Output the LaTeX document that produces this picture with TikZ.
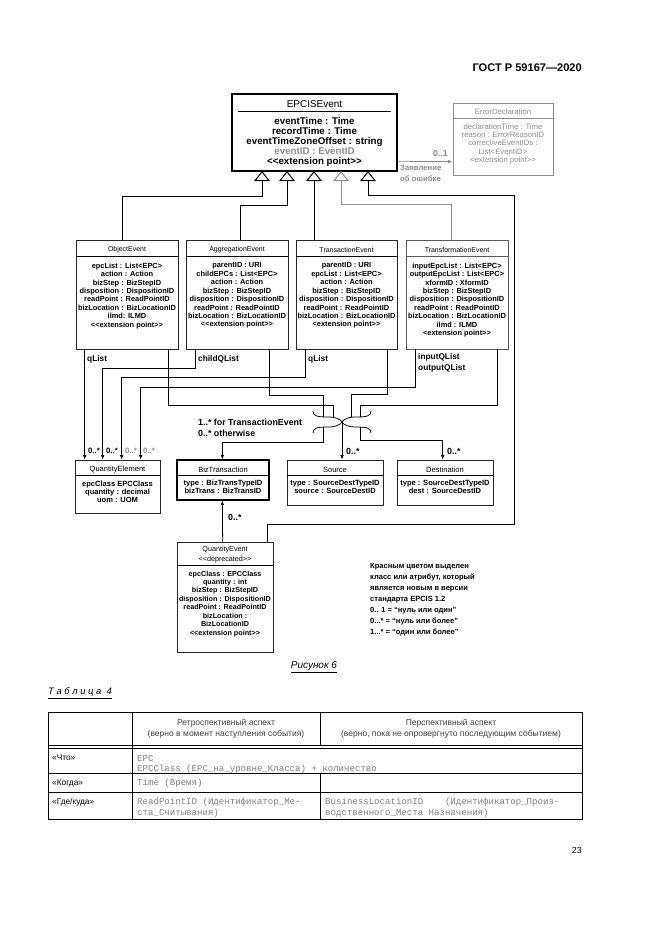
\documentclass[tikz,border=0pt]{standalone}
\usepackage{fontspec}
\setmainfont{Liberation Sans}
\newfontfamily\monofont{Liberation Mono}
\usepackage{tikz}
\usetikzlibrary{fit,calc,arrows.meta}
\definecolor{newgray}{gray}{0.55}
\definecolor{cellgray}{gray}{0.5}
\tikzset{cls/.style={draw=black!85,line width=0.6pt,inner sep=0pt},
         heavy/.style={draw,line width=1.3pt,inner sep=0pt},
         ctitle/.style={font=\fontsize{6.3}{8}\selectfont,inner sep=0pt,align=center},
         attrs/.style={font=\bfseries\fontsize{6.7}{7.6}\selectfont,align=center,inner sep=0pt,anchor=north},
         lbl/.style={font=\bfseries\fontsize{7.5}{9}\selectfont,inner sep=0pt,anchor=west,align=left},
         mult/.style={font=\bfseries\fontsize{7}{8}\selectfont,inner sep=0pt,anchor=west},
         cell/.style={font=\monofont\fontsize{8.2}{10}\selectfont,text=cellgray,inner sep=0pt,anchor=west},
         rowhead/.style={font=\fontsize{7.5}{9}\selectfont,inner sep=0pt,anchor=west},
         colhead/.style={font=\fontsize{7.7}{10}\selectfont,text=black!75,inner sep=0pt,align=center},
         wire/.style={line width=0.7pt}
}
\tikzstyle{arrow} = [line width=0.7pt,-{Latex[length=4bp,width=3.2bp]}]
\tikzstyle{inherit} = [line width=0.9pt,-{Triangle[open,length=9bp,width=14bp]}]
\begin{document}
\begin{tikzpicture}[x=0.9bp,y=-0.9bp]
\useasboundingbox (0,0) rectangle (661,935);

\node[font=\bfseries\fontsize{10}{12}\selectfont,anchor=east,inner sep=0pt] (gost) at (582,68) {ГОСТ Р 59167—2020};

\node[heavy,fit={(232,94)(397,171)}] (epc) {};
\node[font=\fontsize{9}{10}\selectfont,inner sep=0pt] (epcname) at ($(epc.north)+(0,11)$) {EPCISEvent};
\draw[wire] ($(epc.north west)+(7,18)$) -- ($(epc.north east)+(-7,18)$);
\node[attrs,font=\bfseries\fontsize{8.8}{9}\selectfont] (epcattr) at ($(epc.north)+(0,24)$) {eventTime : Time\\recordTime : Time\\eventTimeZoneOffset : string\\\textcolor{newgray}{eventID : EventID}\\<{}<extension point>{}>};

\node[cls,draw=newgray,fit={(453,103)(553,175)}] (err) {};
\node[ctitle,font=\fontsize{7}{8}\selectfont,text=newgray] (errname) at ($(err.north)+(0,9)$) {ErrorDeclaration};
\draw[wire,newgray] ($(err.north west)+(0,16)$) -- ($(err.north east)+(0,16)$);
\node[attrs,font=\fontsize{7}{7.4}\selectfont,text=newgray] (errattr) at ($(err.north)+(0,21)$) {declarationTime : Time\\reason : ErrorReasonID\\correctiveEventIDs :\\List<EventID>\\<extension point>{}>};
\draw[arrow,newgray] ($(epc.north east)+(0,68)$) -- ($(err.north west)+(0,59)$);
\node[mult,anchor=east,text=newgray,font=\bfseries\fontsize{8}{9}\selectfont] (errmult) at (448,153) {0..1};
\node[lbl,anchor=north west,font=\bfseries\fontsize{7}{10}\selectfont,text=newgray] (errrole) at (400,165) {Заявление\\об ошибке};

\coordinate (t1) at (262,171);
\coordinate (t2) at (287,171);
\coordinate (t3) at (314,171);
\coordinate (t4) at (341,171);
\coordinate (t5) at (368,171);

\node[cls,fit={(76,240)(178,349)}] (objev) {};
\node[ctitle] (objname) at ($(objev.north)+(0,10)$) {ObjectEvent};
\draw[wire] ($(objev.north west)+(0,17)$) -- ($(objev.north east)+(0,17)$);
\node[attrs] (objattr) at ($(objev.north)+(0,23)$) {epcList : List<EPC>\\action : Action\\bizStep : BizStepID\\disposition : DispositionID\\readPoint : ReadPointID\\bizLocation : BizLocationID\\ilmd: ILMD\\<{}<extension point>{}>};

\node[cls,fit={(186,240)(288,349)}] (aggev) {};
\node[ctitle] (aggname) at ($(aggev.north)+(0,10)$) {AggregationEvent};
\draw[wire] ($(aggev.north west)+(0,17)$) -- ($(aggev.north east)+(0,17)$);
\node[attrs] (aggattr) at ($(aggev.north)+(0,23)$) {parentID : URI\\childEPCs : List<EPC>\\action : Action\\bizStep : BizStepID\\disposition : DispositionID\\readPoint : ReadPointID\\bizLocation : BizLocationID\\<{}<extension point>{}>};

\node[cls,fit={(296,240)(397,349)}] (transev) {};
\node[ctitle] (transname) at ($(transev.north)+(0,10)$) {TransactionEvent};
\draw[wire] ($(transev.north west)+(0,17)$) -- ($(transev.north east)+(0,17)$);
\node[attrs] (transattr) at ($(transev.north)+(0,23)$) {parentID : URI\\epcList : List<EPC>\\action : Action\\bizStep : BizStepID\\disposition : DispositionID\\readPoint : ReadPointID\\bizLocation : BizLocationID\\<extension point>{}>};

\node[cls,draw=black!65,fit={(406,240)(508,349)}] (xformev) {};
\node[ctitle] (xformname) at ($(xformev.north)+(0,10)$) {TransformationEvent};
\draw[wire,black!65] ($(xformev.north west)+(0,17)$) -- ($(xformev.north east)+(0,17)$);
\node[attrs] (xformattr) at ($(xformev.north)+(0,23)$) {inputEpcList : List<EPC>\\outputEpcList : List<EPC>\\xformID : XformID\\bizStep : BizStepID\\disposition : DispositionID\\readPoint : ReadPointID\\bizLocation : BizLocationID\\ilmd : ILMD\\<extension point>{}>};

\node[cls,fit={(75,460)(160,513)}] (qel) {};
\node[ctitle,font=\fontsize{6.8}{8}\selectfont] (qelname) at ($(qel.north)+(0,10)$) {QuantityElement};
\draw[wire] ($(qel.north west)+(0,16)$) -- ($(qel.north east)+(0,16)$);
\node[attrs,font=\bfseries\fontsize{6.8}{7.4}\selectfont] (qelattr) at ($(qel.north)+(0,21)$) {epcClass EPCClass\\quantity : decimal\\uom : UOM};

\node[heavy,line width=1.1pt,fit={(177,460)(269,500)}] (bizt) {};
\node[ctitle,font=\fontsize{6.8}{8}\selectfont] (biztname) at ($(bizt.north)+(0,10)$) {BizTransaction};
\draw[wire] ($(bizt.north west)+(0,16)$) -- ($(bizt.north east)+(0,16)$);
\node[attrs,font=\bfseries\fontsize{6.8}{7.6}\selectfont] (biztattr) at ($(bizt.north)+(0,20)$) {type : BizTransTypeID\\bizTrans : BizTransID};

\node[cls,fit={(287,460)(383,505)}] (src) {};
\node[ctitle,font=\fontsize{6.8}{8}\selectfont] (srcname) at ($(src.north)+(0,10)$) {Source};
\draw[wire] ($(src.north west)+(0,16)$) -- ($(src.north east)+(0,16)$);
\node[attrs,font=\bfseries\fontsize{6.8}{7.6}\selectfont] (srcattr) at ($(src.north)+(0,20)$) {type : SourceDestTypeID\\source : SourceDestID};

\node[cls,fit={(397,460)(493,505)}] (dest) {};
\node[ctitle,font=\fontsize{6.8}{8}\selectfont] (destname) at ($(dest.north)+(0,10)$) {Destination};
\draw[wire] ($(dest.north west)+(0,16)$) -- ($(dest.north east)+(0,16)$);
\node[attrs,font=\bfseries\fontsize{6.8}{7.6}\selectfont] (destattr) at ($(dest.north)+(0,20)$) {type : SourceDestTypeID\\dest : SourceDestID};

\node[cls,fit={(177,542)(273,652)}] (qev) {};
\node[ctitle,font=\fontsize{6.5}{8.5}\selectfont] (qevname) at ($(qev.north)+(0,13)$) {QuantityEvent\\<{}<deprecated>{}>};
\draw[wire] ($(qev.north west)+(0,24)$) -- ($(qev.north east)+(0,24)$);
\node[attrs,font=\bfseries\fontsize{6.5}{7.6}\selectfont] (qevattr) at ($(qev.north)+(0,29)$) {epcClass : EPCClass\\quantity : int\\bizStep : BizStepID\\disposition : DispositionID\\readPoint : ReadPointID\\bizLocation :\\BizLocationID\\<{}<extension point>{}>};

\draw[inherit] ($(objev.north west)+(47,0)$) |- ($(t1)+(0,25)$) -- (t1);
\draw[inherit] ($(aggev.north west)+(55,0)$) |- ($(t2)+(0,34)$) -- (t2);
\draw[inherit] (transev.north -| t3) -- (t3);
\draw[inherit,newgray] ($(xformev.north west)+(46,0)$) |- ($(t4)+(0,33)$) -- (t4);
\draw[inherit] ($(qev.north west)+(91,0)$) -- ++(0,-17) -| ($(t5)+(146,24)$) |- ($(t5)+(0,24)$) -- (t5);

\draw[arrow] ($(objev.south west)+(9,0)$) -- ($(qel.north west)+(10,0)$);
\draw[arrow] ($(aggev.south west)+(10,0)$) -- ++(0,19) -| ($(qel.north west)+(28,0)$);
\draw[arrow] ($(transev.south west)+(10,0)$) -- ++(0,28) -| ($(qel.north west)+(47,0)$);
\draw[arrow] ($(xformev.south west)+(10,0)$) -- ++(0,38) -| ($(qel.north west)+(66,0)$);
\node[lbl] (objq) at (87,359) {qList};
\node[lbl] (aggq) at (198,359) {childQList};
\node[lbl] (transq) at (308,359) {qList};
\node[lbl,anchor=north west,font=\bfseries\fontsize{7.5}{10}\selectfont] (xformq) at (418,353) {inputQList\\outputQList};
\node[mult] (m1) at (88,451) {0..*};
\node[mult] (m2) at (106,451) {0..*};
\node[mult,text=newgray] (m3) at (125,451) {0..*};
\node[mult,text=newgray] (m4) at (143,451) {0..*};

\coordinate (jn) at (342,422);
\draw[wire,shift={(jn)}] (-29,-11) .. controls (-29,-6) and (-25,-5) .. (-14,-5) .. controls (-6,-5) and (-2,-3) .. (0,0) .. controls (-2,3) and (-6,5) .. (-14,5) .. controls (-25,5) and (-29,6) .. (-29,11);
\draw[wire,shift={(jn)}] (29,-11) .. controls (29,-6) and (25,-5) .. (14,-5) .. controls (6,-5) and (2,-3) .. (0,0) .. controls (2,3) and (6,5) .. (14,5) .. controls (25,5) and (29,6) .. (29,11);
\draw[wire] ($(objev.south east)+(-10,0)$) -- ++(0,56) -| ($(jn)+(-9,-5)$);
\draw[wire] ($(aggev.south east)+(-19,0)$) -- ++(0,46) -| ($(jn)+(-19,-5)$);
\draw[wire] ($(transev.south east)+(-10,0)$) -- ++(0,45) -| ($(jn)+(9,-5)$);
\draw[wire] ($(xformev.south east)+(-11,0)$) -- ++(0,56) -| ($(jn)+(18,-5)$);
\draw[arrow] (jn) -- (src.north -| jn);
\draw[arrow] ($(jn)+(18,5)$) -- ++(0,13) -| ($(dest.north west)+(46,0)$);
\draw[arrow] ($(jn)+(-19,5)$) -- ++(0,15) -| ($(bizt.north west)+(46,0)$);
\draw[arrow] ($(qev.north west)+(46,0)$) -- ($(bizt.south west)+(46,0)$);
\node[mult,font=\bfseries\fontsize{8}{9}\selectfont] (srcm) at (346,451) {0..*};
\node[mult,font=\bfseries\fontsize{8}{9}\selectfont] (destm) at (447,451) {0..*};
\node[mult,font=\bfseries\fontsize{8}{9}\selectfont] (biztm) at (228,517) {0..*};
\node[lbl,anchor=north west,font=\bfseries\fontsize{8}{10}\selectfont] (biztrole) at (198,419) {1..* for TransactionEvent\\0..* otherwise};

\node[lbl,anchor=north west,font=\bfseries\fontsize{6.8}{9.9}\selectfont] (legend) at (370,563) {Красным цветом выделен\\класс или атрибут, который\\является новым в версии\\стандарта EPCIS 1.2\\0.. 1 = “нуль или один”\\0...* = “нуль или более”\\1...* = “один или более”};
\node[font=\itshape\fontsize{9}{10}\selectfont,inner sep=0pt] (figcap) at (314,667) {\underline{Рисунок 6}};

\node[font=\itshape\fontsize{8.5}{10}\selectfont,anchor=west,inner sep=0pt] (tabcap) at (48,693) {\underline{Т а б л и ц а~~4}};
\draw[line width=0.8pt] (48,712) rectangle (582,819);
\draw[line width=0.6pt] (48,745) -- (582,745);
\draw[line width=0.6pt] (48,748) -- (582,748);
\draw[line width=0.6pt] (48,773) -- (582,773);
\draw[line width=0.6pt] (48,792) -- (582,792);
\draw[line width=0.6pt] (132,712) -- (132,819);
\draw[line width=0.6pt] (320,712) -- (320,745);
\draw[line width=0.6pt] (320,773) -- (320,819);
\node[colhead] (retro) at (226,729) {Ретроспективный аспект\\(верно в момент наступления события)};
\node[colhead] (persp) at (451,729) {Перспективный аспект\\(верно, пока не опровергнуто последующим событием)};
\node[rowhead] (what) at (52,758) {«Что»};
\node[rowhead] (when) at (52,783) {«Когда»};
\node[rowhead] (where) at (52,802) {«Где/куда»};
\node[cell] (c1) at (137,758) {EPC};
\node[cell] (c2) at (137,769) {EPCClass (EPC\_на\_уровне\_Класса) + количество};
\node[cell] (c3) at (137,783) {Time (Время)};
\node[cell] (c4) at (137,802) {ReadPointID (Идентификатор\_Ме-};
\node[cell] (c5) at (137,813) {ста\_Считывания)};
\node[cell] (c6) at (325,802) {BusinessLocationID\ \ \ \ (Идентификатор\_Произ-};
\node[cell] (c7) at (325,813) {водственного\_Места Назначения)};

\node[font=\fontsize{8}{10}\selectfont,anchor=east,inner sep=0pt] (pageno) at (582,850) {23};
\end{tikzpicture}
\end{document}
